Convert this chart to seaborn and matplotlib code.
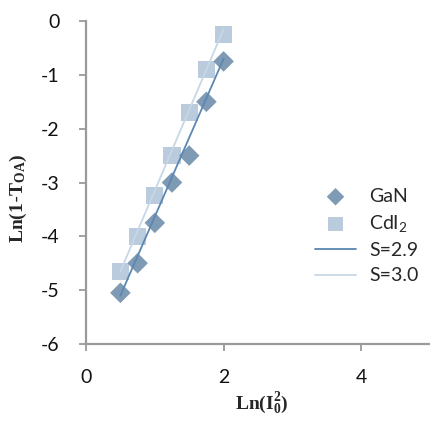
import matplotlib
matplotlib.use("Agg")
import matplotlib.pyplot as plt
import seaborn as sns
import pandas as pd

# Data
x_vals = [0.5, 0.75, 1.0, 1.25, 1.5, 1.75, 2.0]
gan_vals = [-5.05, -4.5, -3.75, -3.0, -2.5, -1.5, -0.75]
cdi_vals = [-4.65, -4.0, -3.25, -2.5, -1.7, -0.9, -0.25]
fit_x = [0.5, 2.0]
fit_gan = [-5.1, -0.7]
fit_cdi = [-4.65, -0.15]
x_ticks = [0, 2, 4]
y_ticks = [0, -1, -2, -3, -4, -5, -6]

sns.set_style("white")
plt.rcParams["font.family"] = ["Lato", "DejaVu Sans"]
plt.rcParams["mathtext.fontset"] = "custom"
plt.rcParams["mathtext.rm"] = "Lato"
plt.rcParams["mathtext.bf"] = "Liberation Serif:bold"
plt.rcParams["mathtext.it"] = "Lato:italic"

pts = pd.DataFrame({"x": x_vals, "GaN": gan_vals, "CdI": cdi_vals})
fits = pd.DataFrame({"x": fit_x, "S29": fit_gan, "S30": fit_cdi})

fig = plt.figure(figsize=(4.30, 4.21), dpi=100)
ax = fig.add_axes([0.2, 0.183, 0.8, 0.767])

c_gan = "#7f9ab4"
c_cdi = "#b9cbdc"
c_l29 = "#5b87b2"
c_l30 = "#c8d7e5"

sns.scatterplot(data=pts, x="x", y="GaN", ax=ax, marker="D", s=110, color=c_gan,
                edgecolor="none", label="GaN", zorder=3)
sns.scatterplot(data=pts, x="x", y="CdI", ax=ax, marker="s", s=150, color=c_cdi,
                edgecolor="none", label="CdI$_2$", zorder=2)
sns.lineplot(data=fits, x="x", y="S29", ax=ax, color=c_l29, lw=1.3, label="S=2.9", zorder=4)
sns.lineplot(data=fits, x="x", y="S30", ax=ax, color=c_l30, lw=1.3, label="S=3.0", zorder=4)

ax.set_xlim(0, 5)
ax.set_ylim(-6, 0)
ax.set_xticks(x_ticks)
ax.set_yticks(y_ticks)
ax.set_xticklabels([str(t) for t in x_ticks])
ax.set_yticklabels([str(t) for t in y_ticks])

for s in ["top", "right"]:
    ax.spines[s].set_visible(False)
for s in ["left", "bottom"]:
    ax.spines[s].set_color("#9a9a9a")
    ax.spines[s].set_linewidth(1.6)

ax.tick_params(axis="both", direction="out", length=5, width=1.3, color="#9a9a9a",
               labelsize=14, labelcolor="#111111")
ax.tick_params(axis="y", pad=14, left=True)
ax.tick_params(axis="x", pad=13, bottom=True)

ax.set_xlabel(r"$\mathbf{Ln(I_0^2)}$", fontsize=14, va="center")
ax.set_ylabel(r"$\mathbf{Ln(1\text{-}T_{OA})}$", fontsize=14, va="center")
ax.xaxis.set_label_coords(0.51, -0.183)
ax.yaxis.set_label_coords(-0.195, 0.452)

leg = ax.legend(loc="center left", bbox_to_anchor=(0.642, 0.334), frameon=False,
                fontsize=14, handlelength=2.15, handletextpad=0.67, labelspacing=0.42,
                borderaxespad=0, markerscale=0.85)

fig.savefig("out.png", dpi=100)
